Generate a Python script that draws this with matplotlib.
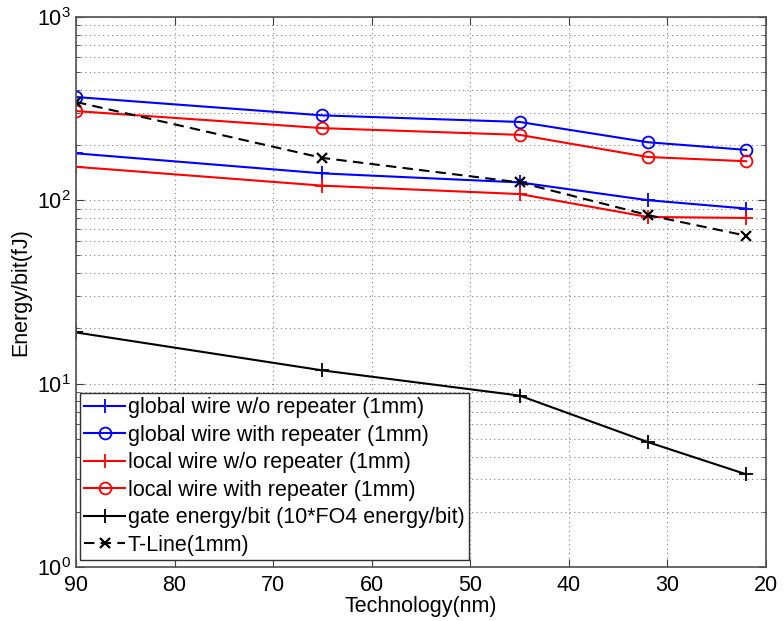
import matplotlib
matplotlib.use("Agg")
import matplotlib.pyplot as plt
from matplotlib.ticker import LogLocator, NullFormatter, MultipleLocator

plt.rcParams['font.family'] = ['Liberation Sans', 'DejaVu Sans']

tech = [90, 65, 45, 32, 22]
global_wo = [180, 140, 125, 100, 90]
global_with = [365, 290, 267, 207, 188]
local_wo = [152, 120, 108, 81, 80]
local_with = [306, 247, 227, 172, 163]
gate = [19, 11.8, 8.6, 4.8, 3.2]
tline = [343, 170, 125, 83, 64]

labels = ["global wire w/o repeater (1mm)",
          "global wire with repeater (1mm)",
          "local wire w/o repeater (1mm)",
          "local wire with repeater (1mm)",
          "gate energy/bit (10*FO4 energy/bit)",
          "T-Line(1mm)"]

fig = plt.figure(figsize=(7.84, 6.21), dpi=100)
ax = fig.add_axes([0.097, 0.087, 0.88, 0.886])

lw = 1.5
ax.plot(tech, global_wo, color='blue', marker='+', ms=10, mew=1.3, lw=lw, label=labels[0])
ax.plot(tech, global_with, color='blue', marker='o', ms=8.5, mfc='none', mew=1.3, lw=lw, label=labels[1])
ax.plot(tech, local_wo, color='red', marker='+', ms=10, mew=1.3, lw=lw, label=labels[2])
ax.plot(tech, local_with, color='red', marker='o', ms=8.5, mfc='none', mew=1.3, lw=lw, label=labels[3])
ax.plot(tech, gate, color='black', marker='+', ms=10, mew=1.3, lw=lw, label=labels[4])
ax.plot(tech, tline, color='black', marker='x', ms=7, mew=1.6, lw=lw, ls=(0, (5, 3)), label=labels[5])

ax.set_yscale('log')
ax.set_ylim(1, 1000)
ax.set_xlim(90, 20)
ax.xaxis.set_major_locator(MultipleLocator(10))
ax.yaxis.set_major_locator(LogLocator(base=10, numticks=10))
ax.yaxis.set_minor_locator(LogLocator(base=10, subs=range(2, 10), numticks=20))
ax.yaxis.set_minor_formatter(NullFormatter())

ax.grid(True, which='major', ls=(0, (1, 3)), color='#808080', lw=0.8)
ax.grid(True, which='minor', axis='y', ls=(0, (1, 3)), color='#808080', lw=0.8)

ax.tick_params(which='both', direction='in', top=True, right=True, labelsize=15.5, colors='#404040', labelcolor='black')
ax.tick_params(which='major', length=6)
ax.tick_params(which='minor', length=3)
ax.tick_params(axis='x', pad=6)
for s in ax.spines.values():
    s.set_color('#505050')
    s.set_linewidth(1.2)

ax.set_xlabel("Technology(nm)", fontsize=15.5, labelpad=0)
ax.set_ylabel("Energy/bit(fJ)", fontsize=15.5, labelpad=4)

leg = ax.legend(loc='upper left', bbox_to_anchor=(0.006, 0.316), fontsize=15.5,
                frameon=True, fancybox=False, framealpha=1, edgecolor='#303030',
                handlelength=1.9, handletextpad=0.1, labelspacing=0.3,
                borderpad=0.2, borderaxespad=0)
leg.get_frame().set_linewidth(1.0)

fig.savefig("out.png", dpi=100)
